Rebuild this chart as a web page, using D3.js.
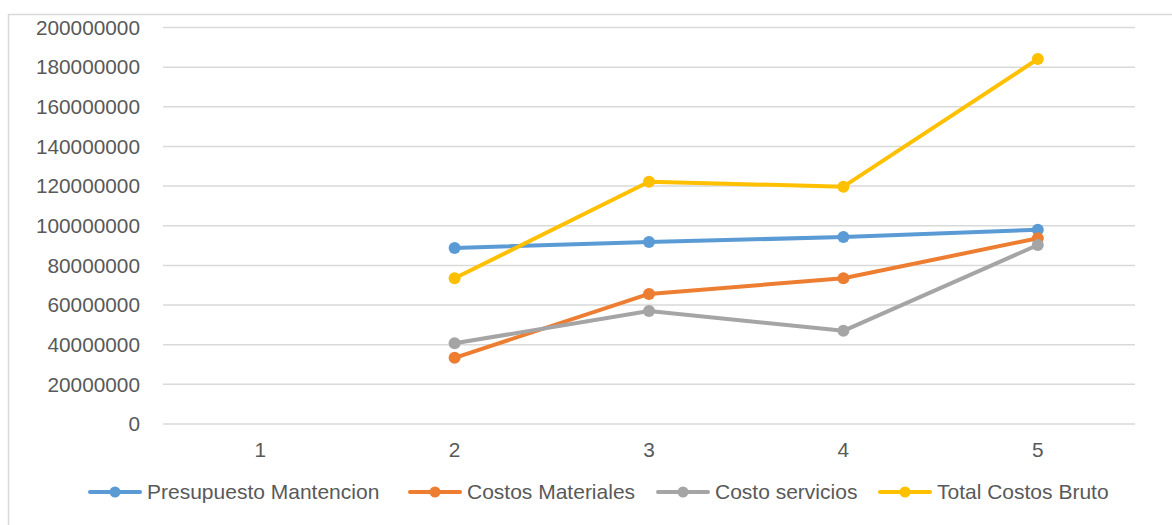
<!DOCTYPE html>
<html>
<head>
<meta charset="utf-8">
<script src="https://cdn.jsdelivr.net/npm/d3@7/dist/d3.min.js"></script>
<style>
  html, body { margin: 0; padding: 0; background: #fff; }
  svg { display: block; }
  text { font-family: "Liberation Sans", Arial, sans-serif; fill: #595959; }
</style>
</head>
<body>
<svg id="chart" width="1172" height="525"></svg>
<script>
const categories = ["1", "2", "3", "4", "5"];
const yTicks = [0, 20000000, 40000000, 60000000, 80000000, 100000000, 120000000, 140000000, 160000000, 180000000, 200000000];
const presupuestoMantencion = [null, 88800000, 91800000, 94300000, 98000000];
const costosMateriales = [null, 33400000, 65600000, 73500000, 93700000];
const costoServicios = [null, 40700000, 57000000, 47000000, 90300000];
const totalCostosBruto = [null, 73500000, 122200000, 119700000, 184100000];

const seriesNames = ["Presupuesto Mantencion", "Costos Materiales", "Costo servicios", "Total Costos Bruto"];
const seriesColors = ["#5B9BD5", "#ED7D31", "#A5A5A5", "#FFC000"];
const seriesValues = [presupuestoMantencion, costosMateriales, costoServicios, totalCostosBruto];

const svg = d3.select("#chart");

// chart frame (right and bottom edges beyond the picture)
svg.append("rect")
  .attr("x", 8.5).attr("y", 14.5)
  .attr("width", 1200).attr("height", 600)
  .attr("fill", "none").attr("stroke", "#D9D9D9").attr("stroke-width", 1.5);

const plot = { left: 163, right: 1135, top: 27.5, bottom: 424 };

const x = d3.scaleBand().domain(categories).range([plot.left, plot.right]);
const y = d3.scaleLinear().domain([0, 200000000]).range([plot.bottom, plot.top]);

// gridlines
svg.append("g").selectAll("line").data(yTicks).join("line")
  .attr("x1", plot.left).attr("x2", plot.right)
  .attr("y1", d => y(d)).attr("y2", d => y(d))
  .attr("stroke", "#D9D9D9").attr("stroke-width", 1.5);

// y axis labels
const yAxis = d3.axisLeft(y).tickValues(yTicks).tickSize(0).tickPadding(0).tickFormat(d3.format("d"));
const gy = svg.append("g").attr("transform", `translate(140,0)`).call(yAxis);
gy.select(".domain").remove();
gy.selectAll("text").attr("font-size", "20.8px").attr("fill", "#595959")
  .style("font-family", '"Liberation Sans", Arial, sans-serif');

// x axis labels
const xAxis = d3.axisBottom(x).tickSize(0).tickPadding(0);
const gx = svg.append("g").attr("transform", `translate(0,${plot.bottom + 18})`).call(xAxis);
gx.select(".domain").remove();
gx.selectAll("text").attr("font-size", "20.8px").attr("fill", "#595959")
  .style("font-family", '"Liberation Sans", Arial, sans-serif');

// lines and markers
const line = d3.line()
  .defined(d => d.v !== null)
  .x(d => x(d.c) + x.bandwidth() / 2)
  .y(d => y(d.v));

seriesValues.forEach((vals, i) => {
  const pts = vals.map((v, j) => ({ c: categories[j], v }));
  svg.append("path").datum(pts)
    .attr("d", line)
    .attr("fill", "none")
    .attr("stroke", seriesColors[i])
    .attr("stroke-width", 4)
    .attr("stroke-linejoin", "round")
    .attr("stroke-linecap", "round");
  svg.append("g").selectAll("circle").data(pts.filter(d => d.v !== null)).join("circle")
    .attr("cx", d => x(d.c) + x.bandwidth() / 2)
    .attr("cy", d => y(d.v))
    .attr("r", 6)
    .attr("fill", seriesColors[i]);
});

// legend
const legendX = [90, 410, 658, 880];
const legendY = 492;
const lg = svg.append("g");
seriesNames.forEach((name, i) => {
  const g = lg.append("g").attr("transform", `translate(${legendX[i]},${legendY})`);
  g.append("line").attr("x1", 0).attr("x2", 50).attr("y1", 0).attr("y2", 0)
    .attr("stroke", seriesColors[i]).attr("stroke-width", 4).attr("stroke-linecap", "round");
  g.append("circle").attr("cx", 25).attr("cy", 0).attr("r", 5.5).attr("fill", seriesColors[i]);
  g.append("text").attr("x", 57).attr("y", 0).attr("dy", "0.35em")
    .attr("font-size", "21px").text(name);
});
</script>
</body>
</html>
